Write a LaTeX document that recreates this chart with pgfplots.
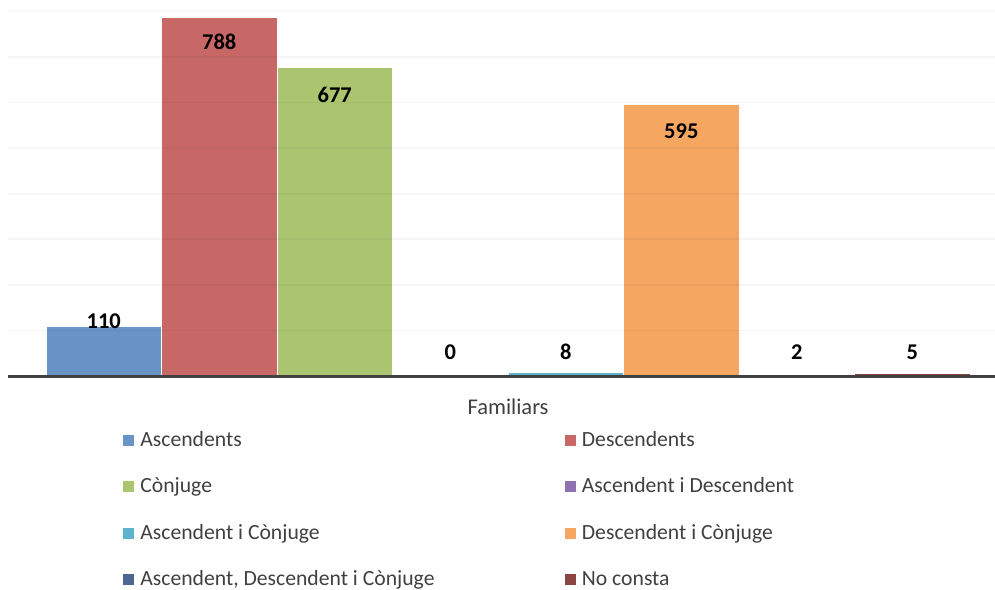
\documentclass[border=0pt]{standalone}
\usepackage{pgfplots}
\pgfplotsset{compat=1.18}
\usepackage{fontspec}
\setmainfont{Carlito}
\definecolor{cAsc}{HTML}{6894C8}
\definecolor{cDesc}{HTML}{C86866}
\definecolor{cConj}{HTML}{AAC470}
\definecolor{cAD}{HTML}{8E72B0}
\definecolor{cAC}{HTML}{5EB4CF}
\definecolor{cDC}{HTML}{F5A661}
\definecolor{cADC}{HTML}{4B6792}
\definecolor{cNC}{HTML}{8C4543}
\definecolor{textgray}{HTML}{404040}
\begin{document}
\begin{tikzpicture}
\begin{axis}[
    at={(0pt,0pt)}, anchor=south west,
    scale only axis,
    width=592.2pt, height=225.6pt,
    xmin=0.171, xmax=8.716,
    ymin=0, ymax=825,
    axis x line*=bottom, axis y line*=left,
    y axis line style={draw=none},
    x axis line style={line width=1.8pt, color=textgray},
    xtick={4.5}, xticklabels={Familiars},
    ytick={100,200,...,800}, yticklabels={},
    major tick length=0pt,
    ymajorgrids,
    grid style={black, opacity=0.035, line width=1pt},
    axis on top,
    clip=false,
    xticklabel style={anchor=center, yshift=-18.6pt,
        font=\fontsize{13.5}{16}\selectfont, text=textgray},
    every axis plot/.append style={ybar, bar width=1, bar shift=0pt,
        draw=white, line width=0.4pt},
    nodes near coords={\pgfmathprintnumber[assume math mode=true]{\pgfplotspointmeta}},
    nodes near coords style={font=\bfseries\fontsize{13.5}{16}\selectfont,
        anchor=center, text=black},
    legend columns=2,
    legend cell align=left,
    legend image code/.code={\fill (0pt,-3.6pt) rectangle (7.2pt,3.6pt);},
    legend style={at={(rel axis cs:0.1155,-0.137)}, anchor=north west,
        draw=none, fill=none, inner sep=0pt,
        font=\fontsize{13}{15}\selectfont, text=textgray,
        row sep=13.4pt,
        /tikz/every odd column/.append style={column sep=1.2pt},
        /tikz/every even column/.append style={column sep=75.6pt}},
]
\addplot[fill=cAsc, nodes near coords style={yshift=3pt}] coordinates {(1,110)};
\addplot[fill=cDesc, nodes near coords style={yshift=-15pt}] coordinates {(2,788)};
\addplot[fill=cConj, nodes near coords style={yshift=-16.2pt}] coordinates {(3,677)};
\addplot[fill=cAD, nodes near coords style={yshift=14.4pt}] coordinates {(4,0)};
\addplot[fill=cAC, nodes near coords style={yshift=12.2pt}] coordinates {(5,8)};
\addplot[fill=cDC, nodes near coords style={yshift=-15.9pt}] coordinates {(6,595)};
\addplot[fill=cADC, nodes near coords style={yshift=13.9pt}] coordinates {(7,2)};
\addplot[fill=cNC, nodes near coords style={yshift=13pt}] coordinates {(8,5)};
\legend{Ascendents, Descendents, Cònjuge, Ascendent i Descendent,
    Ascendent i Cònjuge, Descendent i Cònjuge,
    {Ascendent, Descendent i Cònjuge}, No consta}
\end{axis}
\pgfresetboundingbox
\path[use as bounding box] (-4.8pt,-127.8pt) rectangle (592.2pt,225.6pt);
\end{tikzpicture}
\end{document}
